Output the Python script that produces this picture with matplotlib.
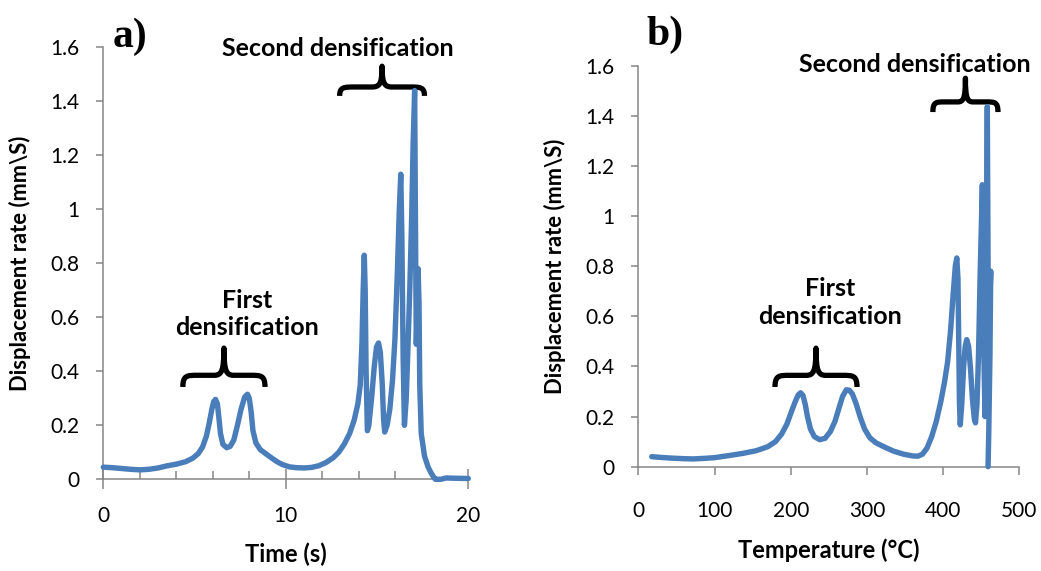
#!/usr/bin/env python3

"""Displacement rate vs time and vs temperature, two densification stages."""

import matplotlib
matplotlib.use("Agg")
import matplotlib.pyplot as plt
from matplotlib.path import Path
from matplotlib.patches import PathPatch
from matplotlib.ticker import FuncFormatter, MultipleLocator
import matplotlib.transforms as mtransforms

# panel a: time (s) vs displacement rate (mm/s)
time_s = [0, 0.5, 1, 1.5, 2, 2.5, 3, 3.5, 4, 4.5, 4.9, 5.2, 5.44, 5.65, 5.8, 5.95,
          6.05, 6.15, 6.25, 6.33, 6.42, 6.55, 6.76, 6.95, 7.15, 7.35, 7.55, 7.75,
          7.9, 8.0, 8.1, 8.2, 8.36, 8.6, 8.9, 9.2, 9.5, 9.8, 10.2, 10.6, 11.0, 11.4,
          11.8, 12.2, 12.6, 12.9, 13.2, 13.5, 13.75, 13.95, 14.08, 14.17, 14.24,
          14.3, 14.35, 14.4, 14.47, 14.55, 14.7, 14.85, 14.97, 15.08, 15.18, 15.28,
          15.36, 15.42, 15.55, 15.7, 15.85, 15.98, 16.1, 16.22, 16.3, 16.36, 16.43,
          16.5, 16.6, 16.7, 16.8, 16.9, 16.98, 17.06, 17.11, 17.15, 17.2, 17.25,
          17.3, 17.34, 17.42, 17.6, 17.8, 17.95, 18.1, 18.2, 18.5, 18.8, 19.2, 20]
rate_a = [0.045, 0.043, 0.04, 0.037, 0.035, 0.037, 0.042, 0.05, 0.056, 0.065, 0.078,
          0.095, 0.12, 0.16, 0.207, 0.26, 0.288, 0.296, 0.28, 0.23, 0.17, 0.13,
          0.117, 0.122, 0.145, 0.2, 0.26, 0.305, 0.315, 0.3, 0.25, 0.18, 0.135, 0.11,
          0.095, 0.08, 0.066, 0.055, 0.046, 0.043, 0.042, 0.044, 0.05, 0.062, 0.08,
          0.1, 0.13, 0.17, 0.22, 0.28, 0.35, 0.5, 0.7, 0.83, 0.7, 0.4, 0.18, 0.2,
          0.3, 0.42, 0.49, 0.505, 0.47, 0.36, 0.22, 0.175, 0.2, 0.26, 0.37, 0.52,
          0.74, 1.0, 1.13, 0.9, 0.45, 0.2, 0.3, 0.5, 0.72, 0.98, 1.25, 1.44, 0.9,
          0.5, 0.62, 0.78, 0.65, 0.35, 0.17, 0.086, 0.045, 0.025, 0.008, 0.0, 0.0,
          0.005, 0.004, 0.003]

# panel b: temperature (C) vs displacement rate (mm/s)
temp_c = [17.6, 30, 45, 60, 72, 85, 100, 118, 137, 155, 170, 180, 188, 195, 201, 206,
          210, 213, 216, 219, 222, 226, 231, 238, 245, 252, 258, 263, 268, 273, 277,
          281, 286, 291, 297, 304, 312, 322, 335, 348, 360, 367, 373, 379, 385, 391,
          397, 402, 406, 410, 413, 416, 418, 419.5, 420.5, 421.5, 422.5, 424.5, 427,
          429, 431, 433.5, 436, 438.5, 441, 442.5, 444.5, 446.5, 448.5, 450.5, 451.5,
          452.5, 453.5, 455, 456, 457, 458, 458.8, 459.5, 461, 462.5, 461.5, 460, 459]
rate_b = [0.04, 0.037, 0.034, 0.032, 0.031, 0.033, 0.036, 0.044, 0.053, 0.064, 0.08,
          0.1, 0.13, 0.17, 0.22, 0.26, 0.287, 0.295, 0.285, 0.25, 0.2, 0.15, 0.12,
          0.108, 0.113, 0.14, 0.18, 0.23, 0.28, 0.307, 0.305, 0.29, 0.25, 0.2, 0.15,
          0.115, 0.095, 0.08, 0.062, 0.05, 0.043, 0.042, 0.05, 0.075, 0.12, 0.18,
          0.26, 0.34, 0.42, 0.55, 0.68, 0.8, 0.833, 0.75, 0.5, 0.25, 0.167, 0.25, 0.4,
          0.48, 0.507, 0.48, 0.39, 0.27, 0.19, 0.175, 0.25, 0.45, 0.75, 1.0, 1.125,
          0.85, 0.45, 0.2, 0.55, 1.0, 1.437, 0.95, 0.49, 0.62, 0.78, 0.45, 0.15, 0.0]

BLUE = '#4A7EBB'
GREY = '#868686'
FONT = 'Lato'
W, H = 1041, 571


def brace(ax, x0, x1, y_end, y_tip):
    """Curly brace pointing up, in data coords of ax."""
    verts = [(0, 0), (0, 0.3), (0.05, 0.3), (0.18, 0.3), (0.38, 0.3),
             (0.47, 0.3), (0.5, 0.4), (0.5, 1.0),
             (0.5, 0.4), (0.53, 0.3), (0.62, 0.3), (0.82, 0.3),
             (0.95, 0.3), (1.0, 0.3), (1.0, 0.0)]
    codes = [Path.MOVETO, Path.CURVE4, Path.CURVE4, Path.CURVE4, Path.LINETO,
             Path.CURVE4, Path.CURVE4, Path.CURVE4,
             Path.CURVE4, Path.CURVE4, Path.CURVE4, Path.LINETO,
             Path.CURVE4, Path.CURVE4, Path.CURVE4]
    tr = (mtransforms.Affine2D().scale(x1 - x0, y_tip - y_end).translate(x0, y_end)
          + ax.transData)
    ax.add_patch(PathPatch(Path(verts, codes), transform=tr, fill=False,
                           lw=3.8, color='black', capstyle='butt',
                           joinstyle='round', clip_on=False))


def style_axes(ax):
    for side in ('top', 'right'):
        ax.spines[side].set_visible(False)
    for side in ('left', 'bottom'):
        ax.spines[side].set_color(GREY)
        ax.spines[side].set_linewidth(1.1)
    ax.set_ylim(0, 1.6)
    ax.yaxis.set_major_locator(MultipleLocator(0.2))
    ax.yaxis.set_major_formatter(FuncFormatter(lambda v, p: f'{v:g}'))
    ax.tick_params(axis='y', direction='out', length=5, width=1.1, color=GREY,
                   pad=12, labelsize=15)
    ax.set_ylabel('Displacement rate (mm\\S)', fontsize=15.8, fontweight='bold',
                  labelpad=14)


def main():
    plt.rcParams['font.family'] = FONT
    fig = plt.figure(figsize=(W / 100, H / 100), dpi=100)

    # ---- a) time
    ax1 = fig.add_axes([103.3 / W, 1 - 479.3 / H, 365 / W, 432 / H])
    ax1.plot(time_s, rate_a, color=BLUE, lw=3.9, solid_joinstyle='round',
             solid_capstyle='round', clip_on=False, zorder=3)
    ax1.set_xlim(0, 20)
    ax1.xaxis.set_major_locator(MultipleLocator(10))
    ax1.xaxis.set_minor_locator(MultipleLocator(2))
    ax1.tick_params(axis='x', which='major', direction='inout', length=14, width=1.1,
                    color=GREY, pad=12, labelsize=15)
    ax1.tick_params(axis='x', which='minor', direction='in', length=6, width=1.1,
                    color=GREY)
    style_axes(ax1)
    ax1.set_xlabel('Time (s)', fontsize=17, fontweight='bold', labelpad=12)

    brace(ax1, 4.36, 8.86, 0.342, 0.486)
    brace(ax1, 12.95, 17.6, 1.42, 1.53)
    ax1.text(7.87, 0.612, 'First\ndensification', ha='center', va='center',
             fontsize=18, fontweight='bold', linespacing=1.22)
    ax1.text(12.86, 1.597, 'Second densification', ha='center', va='center',
             fontsize=18, fontweight='bold', clip_on=False)
    fig.text(130 / W, 1 - 37 / H, 'a)', ha='center', va='center',
             family='Liberation Serif', fontweight='bold', fontsize=30)

    # ---- b) temperature
    ax2 = fig.add_axes([638.3 / W, 1 - 466.7 / H, 381 / W, 401 / H])
    ax2.plot(temp_c, rate_b, color=BLUE, lw=3.9, solid_joinstyle='round',
             solid_capstyle='round', clip_on=False, zorder=3)
    ax2.set_xlim(0, 500)
    ax2.xaxis.set_major_locator(MultipleLocator(100))
    ax2.tick_params(axis='x', direction='out', length=6, width=1.1, color=GREY,
                    pad=19, labelsize=15)
    style_axes(ax2)
    ax2.set_xlabel('Temperature (°C)', fontsize=17, fontweight='bold', labelpad=12)

    brace(ax2, 179.4, 287, 0.318, 0.473)
    brace(ax2, 386.6, 472, 1.415, 1.55)
    ax2.text(251.6, 0.655, 'First\ndensification', ha='center', va='center',
             fontsize=18, fontweight='bold', linespacing=1.22)
    ax2.text(363, 1.603, 'Second densification', ha='center', va='center',
             fontsize=18, fontweight='bold', clip_on=False)
    fig.text(665 / W, 1 - 35 / H, 'b)', ha='center', va='center',
             family='Liberation Serif', fontweight='bold', fontsize=30)

    fig.savefig('out.png', dpi=100)


if __name__ == '__main__':
    main()
